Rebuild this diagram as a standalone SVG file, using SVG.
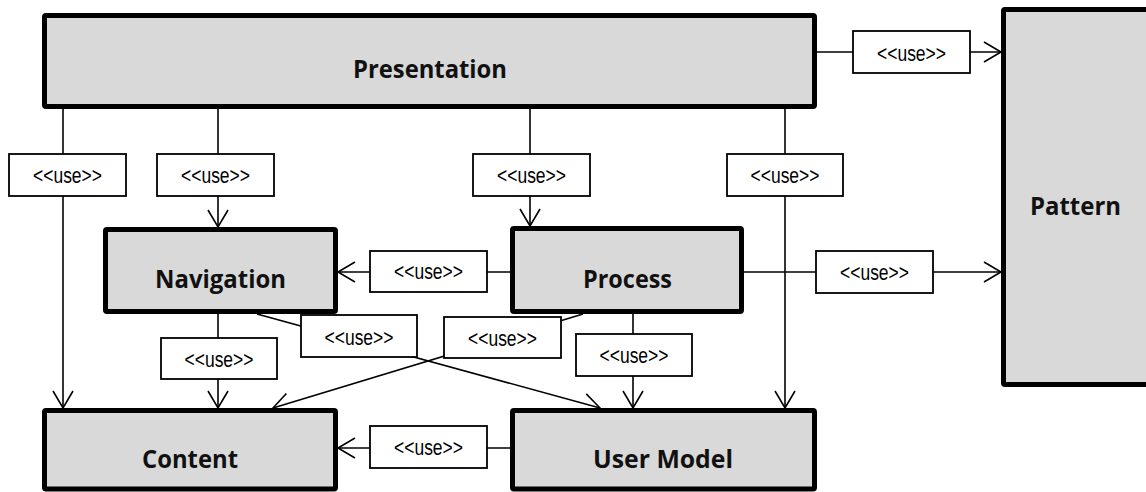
<svg xmlns="http://www.w3.org/2000/svg" width="1146" height="492" viewBox="0 0 1146 492">
  <style>
    .node rect { fill: #d9d9d9; stroke: #000; stroke-width: 5; }
    .node text { font-family: "Open Sans", "Liberation Sans", sans-serif; font-weight: bold; font-size: 25px; fill: #111; text-anchor: middle; }
    .edge line { stroke: #000; stroke-width: 1.6; fill: none; marker-end: url(#open); }
    .tag rect { fill: #fff; stroke: #000; stroke-width: 1.8; }
    .tag text { font-family: "Liberation Sans", Arial, sans-serif; font-size: 22px; fill: #000; text-anchor: middle; }
  </style>
  <defs>
    <marker id="open" markerUnits="userSpaceOnUse" markerWidth="24" markerHeight="24" viewBox="-19 -12 21 24" refX="0" refY="0" orient="auto">
      <path d="M-17,-10 L0,0 L-17,10" fill="none" stroke="#000" stroke-width="1.6"/>
    </marker>
  </defs>
  <rect width="1146" height="492" fill="#fff"/>

  <!-- dependency connectors -->
  <g id="connectors" class="edge">
    <line x1="817" y1="52" x2="1001" y2="52"/>
    <line x1="63" y1="109" x2="63" y2="408"/>
    <line x1="218" y1="109" x2="218" y2="227"/>
    <line x1="530" y1="109" x2="530" y2="226"/>
    <line x1="785" y1="109" x2="785" y2="408"/>
    <line x1="510" y1="272" x2="338" y2="272"/>
    <line x1="744" y1="272" x2="1001" y2="272"/>
    <line x1="218" y1="314" x2="218" y2="408"/>
    <line x1="633" y1="314" x2="633" y2="408"/>
    <line x1="257" y1="314" x2="600" y2="408"/>
    <line x1="583" y1="314" x2="273" y2="408"/>
    <line x1="510" y1="448" x2="338" y2="448"/>
  </g>

  <!-- stereotype labels on the connectors -->
  <g id="labels" class="tag">
    <rect x="853" y="31" width="117" height="42"/><text x="911.5" y="61" textLength="69" lengthAdjust="spacingAndGlyphs">&lt;&lt;use&gt;&gt;</text>
    <rect x="9" y="154" width="117" height="42"/><text x="67.5" y="183" textLength="69" lengthAdjust="spacingAndGlyphs">&lt;&lt;use&gt;&gt;</text>
    <rect x="157" y="154" width="117" height="42"/><text x="215.5" y="183" textLength="69" lengthAdjust="spacingAndGlyphs">&lt;&lt;use&gt;&gt;</text>
    <rect x="473" y="154" width="117" height="42"/><text x="531.5" y="183" textLength="69" lengthAdjust="spacingAndGlyphs">&lt;&lt;use&gt;&gt;</text>
    <rect x="727" y="154" width="116" height="42"/><text x="785" y="183" textLength="69" lengthAdjust="spacingAndGlyphs">&lt;&lt;use&gt;&gt;</text>
    <rect x="370" y="251" width="117" height="41"/><text x="428.5" y="279" textLength="69" lengthAdjust="spacingAndGlyphs">&lt;&lt;use&gt;&gt;</text>
    <rect x="816" y="251" width="117" height="42"/><text x="874.5" y="280" textLength="69" lengthAdjust="spacingAndGlyphs">&lt;&lt;use&gt;&gt;</text>
    <rect x="301" y="315" width="116" height="42"/><text x="359" y="345" textLength="69" lengthAdjust="spacingAndGlyphs">&lt;&lt;use&gt;&gt;</text>
    <rect x="444" y="317" width="117" height="41"/><text x="502.5" y="346" textLength="69" lengthAdjust="spacingAndGlyphs">&lt;&lt;use&gt;&gt;</text>
    <rect x="576" y="334" width="116" height="42"/><text x="634" y="363" textLength="69" lengthAdjust="spacingAndGlyphs">&lt;&lt;use&gt;&gt;</text>
    <rect x="161" y="338" width="116" height="41"/><text x="219" y="367" textLength="69" lengthAdjust="spacingAndGlyphs">&lt;&lt;use&gt;&gt;</text>
    <rect x="370" y="426" width="117" height="42"/><text x="428.5" y="455" textLength="69" lengthAdjust="spacingAndGlyphs">&lt;&lt;use&gt;&gt;</text>
  </g>

  <!-- packages -->
  <g id="presentation" class="node">
    <rect x="44.5" y="15.5" width="770" height="91" rx="1.5"/>
    <text x="430" y="78" textLength="154" lengthAdjust="spacingAndGlyphs">Presentation</text>
  </g>
  <g id="pattern" class="node">
    <rect x="1003.5" y="9.5" width="150" height="375" rx="1.5"/>
    <text x="1075.5" y="215" textLength="91" lengthAdjust="spacingAndGlyphs">Pattern</text>
  </g>
  <g id="navigation" class="node">
    <rect x="105.5" y="229.5" width="230" height="82" rx="1.5"/>
    <text x="220.5" y="288" textLength="131" lengthAdjust="spacingAndGlyphs">Navigation</text>
  </g>
  <g id="process" class="node">
    <rect x="512.5" y="228.5" width="229" height="83" rx="1.5"/>
    <text x="627.5" y="288" textLength="89" lengthAdjust="spacingAndGlyphs">Process</text>
  </g>
  <g id="content" class="node">
    <rect x="44.5" y="410.5" width="291" height="78.5" rx="1.5"/>
    <text x="190" y="468" textLength="96" lengthAdjust="spacingAndGlyphs">Content</text>
  </g>
  <g id="user-model" class="node">
    <rect x="512.5" y="410.5" width="302" height="78.5" rx="1.5"/>
    <text x="663" y="468" textLength="140" lengthAdjust="spacingAndGlyphs">User Model</text>
  </g>
</svg>
